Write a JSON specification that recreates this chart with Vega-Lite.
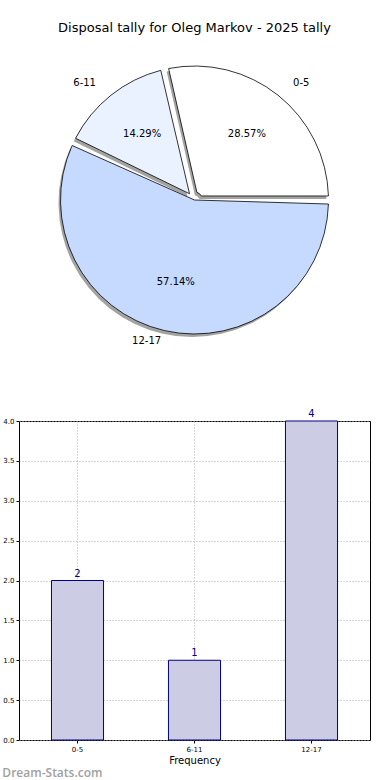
{
  "$schema": "https://vega.github.io/schema/vega-lite/v6.json",
  "padding": {"left": 2, "top": 22, "right": 20, "bottom": 2},
  "config": {"font": "DejaVu Sans", "view": {"stroke": null}},
  "title": {"text": "Dream-Stats.com", "orient": "bottom", "anchor": "start", "frame": "bounds", "color": "#a0a0a0", "fontSize": 12, "fontWeight": 600, "font": "Open Sans", "offset": 2},
  "spacing": 53,
  "vconcat": [
    {
      "width": 351,
      "height": 310,
      "title": {"text": "Disposal tally for Oleg Markov - 2025 tally", "fontSize": 13, "fontWeight": "normal", "offset": 10},
      "data": {"values": [
        {"group": "0-5", "count": 2, "i": 1, "label": "28.57%"},
        {"group": "6-11", "count": 1, "i": 2, "label": "14.29%"},
        {"group": "12-17", "count": 4, "i": 3, "label": "57.14%"}
      ]},
      "encoding": {
        "theta": {"field": "count", "type": "quantitative", "stack": true, "scale": {"range": [1.5708, -4.7124]}},
        "order": {"field": "i", "type": "quantitative"}
      },
      "layer": [
        {"mark": {"type": "arc", "radius": 134, "radius2": {"expr": "datum.group == '12-17' ? 0 : 8"}, "padAngle": 0.06, "color": "#666666", "opacity": 0.6, "xOffset": -2, "yOffset": 3}},
        {"mark": {"type": "arc", "radius": 134, "radius2": {"expr": "datum.group == '12-17' ? 0 : 8"}, "padAngle": 0.06, "stroke": "black", "strokeWidth": 0.8},
         "encoding": {"color": {"field": "group", "type": "nominal", "legend": null,
           "scale": {"domain": ["0-5", "6-11", "12-17"], "range": ["#ffffff", "#ebf2ff", "#c6d9fe"]}}}},
        {"mark": {"type": "text", "radius": 84, "fontSize": 10, "color": "black"}, "encoding": {"text": {"field": "label"}}},
        {"mark": {"type": "text", "radius": 150, "fontSize": 10, "color": "black",
          "align": {"expr": "datum.group == '0-5' ? 'left' : 'right'"},
          "dx": {"expr": "datum.group == '0-5' ? 5 : datum.group == '6-11' ? -5 : 0"},
          "dy": {"expr": "datum.group == '12-17' ? -5 : 0"}},
         "encoding": {"text": {"field": "group"}}}
      ]
    },
    {
      "width": 351,
      "height": 319,
      "view": {"stroke": "black", "strokeWidth": 1},
      "data": {"values": [
        {"group": "0-5", "count": 2},
        {"group": "6-11", "count": 1},
        {"group": "12-17", "count": 4}
      ]},
      "encoding": {
        "x": {"field": "group", "type": "nominal", "sort": null,
          "scale": {"paddingInner": 0, "paddingOuter": 0},
          "axis": {"title": "Frequency", "titleFontSize": 10, "titleFontWeight": "normal", "titlePadding": 3, "labelAngle": 0, "labelFontSize": 7, "labelColor": "black", "domain": false, "tickSize": 3, "tickColor": "black", "bandPosition": 0.5, "grid": true, "gridDash": [1, 2], "gridColor": "#aaaaaa", "labelPadding": 2}},
        "y": {"field": "count", "type": "quantitative", "scale": {"domain": [0, 4]},
          "axis": {"title": null, "values": [0, 0.5, 1, 1.5, 2, 2.5, 3, 3.5, 4], "format": ".1f", "labelFontSize": 7, "labelColor": "black", "domain": false, "tickSize": 3, "tickColor": "black", "grid": true, "gridDash": [1, 2], "gridColor": "#aaaaaa", "labelPadding": 2}}
      },
      "layer": [
        {"mark": {"type": "bar", "width": {"band": 0.445}, "fill": "#ccccE5", "stroke": "#000080", "strokeWidth": 1}},
        {"mark": {"type": "text", "dy": -7, "color": "#00008b", "fontSize": 10}, "encoding": {"text": {"field": "count", "type": "quantitative"}}}
      ]
    }
  ]
}
